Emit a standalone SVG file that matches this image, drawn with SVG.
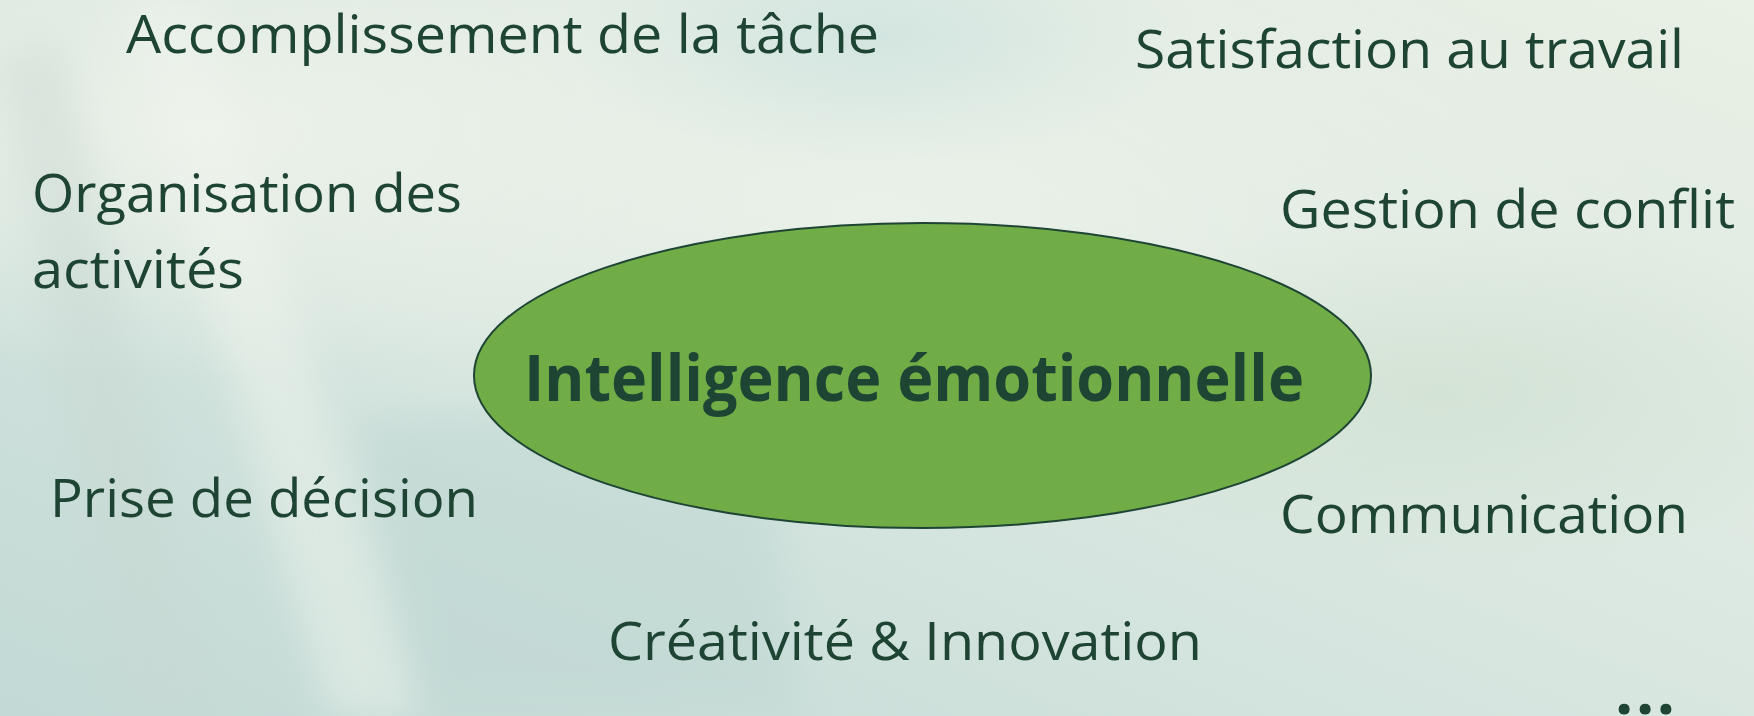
<svg xmlns="http://www.w3.org/2000/svg" width="1754" height="716" viewBox="0 0 1754 716">
  <defs>
    <linearGradient id="bgBase" x1="1" y1="0" x2="0" y2="1">
      <stop offset="0" stop-color="#e9f0e5"/>
      <stop offset="0.45" stop-color="#dbe8e1"/>
      <stop offset="1" stop-color="#c2d9d5"/>
    </linearGradient>
    <radialGradient id="glowLeft" cx="0.12" cy="0.18" r="0.35">
      <stop offset="0" stop-color="#eef3ea" stop-opacity="0.9"/>
      <stop offset="1" stop-color="#eef3ea" stop-opacity="0"/>
    </radialGradient>
    <radialGradient id="glowCenter" cx="0.5" cy="0.3" r="0.45">
      <stop offset="0" stop-color="#edf3ea" stop-opacity="0.8"/>
      <stop offset="1" stop-color="#edf3ea" stop-opacity="0"/>
    </radialGradient>
    <radialGradient id="tealTop" cx="0.5" cy="0.05" r="0.18">
      <stop offset="0" stop-color="#cfe3df" stop-opacity="0.8"/>
      <stop offset="1" stop-color="#cfe3df" stop-opacity="0"/>
    </radialGradient>
    <radialGradient id="greenRight" cx="0.82" cy="0.55" r="0.25">
      <stop offset="0" stop-color="#cfe0d0" stop-opacity="0.7"/>
      <stop offset="1" stop-color="#cfe0d0" stop-opacity="0"/>
    </radialGradient>
    <filter id="soft" x="-20%" y="-20%" width="140%" height="140%">
      <feGaussianBlur stdDeviation="18"/>
    </filter>
    <style>
      .label { font-family: "Open Sans", "Liberation Sans", sans-serif; font-size: 53px; fill: #1e4434; }
      .title { font-family: "Open Sans", "Liberation Sans", sans-serif; font-size: 64px; font-weight: 700; fill: #1e4434; }
      .hub { fill: #70ad47; stroke: #1e4434; stroke-width: 2; }
    </style>
  </defs>

  <!-- background -->
  <rect width="1754" height="716" fill="url(#bgBase)"/>
  <rect width="1754" height="716" fill="url(#glowCenter)"/>
  <rect width="1754" height="716" fill="url(#glowLeft)"/>
  <rect width="1754" height="716" fill="url(#tealTop)"/>
  <rect width="1754" height="716" fill="url(#greenRight)"/>
  <g filter="url(#soft)" opacity="0.45">
    <path d="M0 60 L60 40 L220 716 L120 716 Z" fill="#c9d8d2"/>
    <path d="M120 0 L200 0 L420 716 L330 716 Z" fill="#f1f5ee"/>
    <path d="M360 420 L760 380 L800 716 L420 716 Z" fill="#bcd5d2"/>
  </g>

  <g id="connectors"/>

  <g id="hub">
    <ellipse class="hub" cx="922.5" cy="375.5" rx="448.5" ry="152.5"/>
    <text class="title" x="524" y="401" textLength="780" lengthAdjust="spacingAndGlyphs">Intelligence émotionnelle</text>
  </g>

  <g id="node-accomplissement">
    <text class="label" x="126" y="53" textLength="753" lengthAdjust="spacingAndGlyphs">Accomplissement de la tâche</text>
  </g>
  <g id="node-satisfaction">
    <text class="label" x="1135" y="68" textLength="549" lengthAdjust="spacingAndGlyphs">Satisfaction au travail</text>
  </g>
  <g id="node-organisation">
    <text class="label" x="32" y="212" textLength="430" lengthAdjust="spacingAndGlyphs">Organisation des</text>
    <text class="label" x="32" y="288" textLength="212" lengthAdjust="spacingAndGlyphs">activités</text>
  </g>
  <g id="node-conflit">
    <text class="label" x="1280" y="228" textLength="455" lengthAdjust="spacingAndGlyphs">Gestion de conflit</text>
  </g>
  <g id="node-decision">
    <text class="label" x="50" y="517" textLength="428" lengthAdjust="spacingAndGlyphs">Prise de décision</text>
  </g>
  <g id="node-communication">
    <text class="label" x="1280" y="533" textLength="408" lengthAdjust="spacingAndGlyphs">Communication</text>
  </g>
  <g id="node-creativite">
    <text class="label" x="608" y="660" textLength="594" lengthAdjust="spacingAndGlyphs">Créativité &amp; Innovation</text>
  </g>
  <g id="node-more">
    <text class="title" x="1615" y="714" font-size="78" textLength="60" lengthAdjust="spacing">...</text>
  </g>
</svg>
